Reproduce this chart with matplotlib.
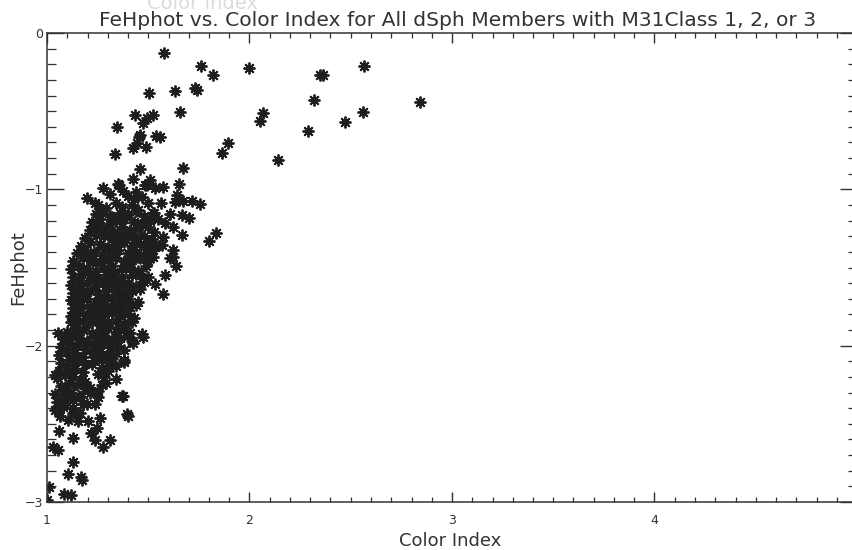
import matplotlib
matplotlib.use("Agg")
import matplotlib.pyplot as plt
from matplotlib.ticker import MultipleLocator, FixedLocator

# ---------------- data ----------------
# sparse points in the upper part of the plot
upper_x = [1.578, 1.760, 1.821, 2.000, 1.504, 1.633, 1.730, 1.740, 1.659, 1.435,
           1.493, 1.522, 1.473, 1.348, 2.069, 2.050, 1.460, 1.456, 1.443, 1.424,
           1.489, 1.539, 1.559, 1.336, 1.896, 1.864, 2.140, 1.671, 1.460, 1.427,
           1.509, 1.349, 1.357, 1.278, 1.311, 1.377, 1.534, 1.575, 1.493, 1.654,
           1.196, 1.237, 1.641, 1.654, 1.633, 1.674, 1.715, 1.756, 1.562, 1.835,
           1.802, 1.484, 1.608, 1.666, 1.703, 1.583, 1.621, 1.666, 1.525, 1.575,
           1.567, 1.624, 1.621, 1.534, 1.525, 1.638, 1.583, 1.534, 1.572, 1.608,
           1.440, 1.470, 1.400, 1.430]
upper_y = [-0.130, -0.211, -0.269, -0.226, -0.386, -0.369, -0.354, -0.364, -0.507, -0.524,
           -0.546, -0.524, -0.578, -0.599, -0.514, -0.561, -0.652, -0.667, -0.705, -0.737,
           -0.727, -0.659, -0.667, -0.774, -0.701, -0.765, -0.812, -0.861, -0.872, -0.934,
           -0.940, -0.965, -0.974, -0.989, -1.031, -1.010, -0.993, -0.983, -0.972, -0.965,
           -1.053, -1.089, -1.036, -1.068, -1.079, -1.072, -1.072, -1.093, -1.085, -1.281,
           -1.328, -0.972, -1.159, -1.164, -1.185, -1.217, -1.238, -1.292, -1.153, -1.302,
           -1.356, -1.387, -1.430, -1.366, -1.430, -1.490, -1.547, -1.605, -1.669, -1.441,
           -1.020, -1.050, -1.040, -1.060]

# sparse points to the right (colour index > 2.2)
right_x = [2.350, 2.365, 2.320, 2.567, 2.473, 2.562, 2.290, 2.844]
right_y = [-0.269, -0.269, -0.428, -0.211, -0.569, -0.505, -0.627, -0.441]

# dense core of the distribution
core_x = [1.25, 1.29, 1.34, 1.37, 1.42, 1.45, 1.50,
          1.24, 1.27, 1.31, 1.36, 1.40, 1.44, 1.48, 1.53,
          1.22, 1.26, 1.31, 1.34, 1.38, 1.43, 1.47, 1.51, 1.55,
          1.21, 1.25, 1.29, 1.33, 1.37, 1.41, 1.45, 1.50, 1.53,
          1.19, 1.24, 1.28, 1.32, 1.36, 1.40, 1.44, 1.48, 1.52,
          1.17, 1.21, 1.26, 1.30, 1.34, 1.38, 1.42, 1.46, 1.50, 1.54,
          1.15, 1.19, 1.23, 1.27, 1.31, 1.35, 1.40, 1.44, 1.48, 1.52,
          1.13, 1.18, 1.22, 1.26, 1.30, 1.34, 1.38, 1.42, 1.46, 1.50,
          1.12, 1.16, 1.20, 1.24, 1.28, 1.32, 1.37, 1.41, 1.45, 1.49,
          1.13, 1.17, 1.21, 1.25, 1.29, 1.33, 1.37, 1.42, 1.46, 1.50,
          1.12, 1.16, 1.20, 1.24, 1.28, 1.32, 1.36, 1.40, 1.44, 1.48,
          1.13, 1.17, 1.21, 1.25, 1.29, 1.34, 1.38, 1.42, 1.46,
          1.12, 1.16, 1.20, 1.24, 1.28, 1.32, 1.36, 1.40, 1.45,
          1.13, 1.17, 1.21, 1.25, 1.29, 1.33, 1.37, 1.41, 1.44,
          1.12, 1.16, 1.20, 1.24, 1.28, 1.32, 1.36, 1.40, 1.43,
          1.14, 1.18, 1.22, 1.26, 1.30, 1.34, 1.38, 1.42,
          1.10, 1.14, 1.18, 1.22, 1.26, 1.30, 1.34, 1.38, 1.41,
          1.08, 1.12, 1.16, 1.20, 1.24, 1.28, 1.32, 1.36, 1.40,
          1.07, 1.11, 1.15, 1.19, 1.23, 1.27, 1.31, 1.35,
          1.06, 1.10, 1.14, 1.18, 1.22, 1.26, 1.30, 1.34,
          1.07, 1.11, 1.15, 1.19, 1.23, 1.27, 1.31,
          1.06, 1.10, 1.14, 1.18, 1.27, 1.30,
          1.05, 1.09, 1.13, 1.17, 1.28,
          1.07, 1.11, 1.15, 1.19, 1.27,
          1.04, 1.08, 1.12, 1.16, 1.21,
          1.05, 1.09, 1.13, 1.18,
          1.04, 1.08, 1.13]
core_y = [-1.10, -1.12, -1.09, -1.11, -1.10, -1.13, -1.09,
          -1.16, -1.14, -1.17, -1.15, -1.16, -1.14, -1.17, -1.15,
          -1.21, -1.19, -1.22, -1.20, -1.19, -1.21, -1.22, -1.20, -1.19,
          -1.26, -1.24, -1.25, -1.27, -1.24, -1.26, -1.25, -1.24, -1.27,
          -1.31, -1.29, -1.30, -1.32, -1.30, -1.29, -1.31, -1.30, -1.32,
          -1.36, -1.34, -1.35, -1.37, -1.35, -1.34, -1.36, -1.35, -1.34, -1.36,
          -1.41, -1.39, -1.40, -1.42, -1.40, -1.39, -1.41, -1.40, -1.42, -1.39,
          -1.46, -1.44, -1.45, -1.47, -1.45, -1.44, -1.46, -1.45, -1.44, -1.46,
          -1.51, -1.49, -1.50, -1.52, -1.50, -1.49, -1.51, -1.50, -1.52, -1.49,
          -1.56, -1.54, -1.55, -1.57, -1.55, -1.54, -1.56, -1.55, -1.54, -1.56,
          -1.61, -1.59, -1.60, -1.62, -1.60, -1.59, -1.61, -1.60, -1.62, -1.59,
          -1.66, -1.64, -1.65, -1.67, -1.65, -1.64, -1.66, -1.65, -1.64,
          -1.71, -1.69, -1.70, -1.72, -1.70, -1.69, -1.71, -1.70, -1.72,
          -1.76, -1.74, -1.75, -1.77, -1.75, -1.74, -1.76, -1.75, -1.74,
          -1.81, -1.79, -1.80, -1.82, -1.80, -1.79, -1.81, -1.80, -1.82,
          -1.86, -1.84, -1.85, -1.87, -1.85, -1.84, -1.86, -1.85,
          -1.91, -1.89, -1.90, -1.92, -1.90, -1.89, -1.91, -1.90, -1.92,
          -1.96, -1.94, -1.95, -1.97, -1.95, -1.94, -1.96, -1.95, -1.94,
          -2.01, -1.99, -2.00, -2.02, -2.00, -1.99, -2.01, -2.00,
          -2.06, -2.04, -2.05, -2.07, -2.05, -2.04, -2.06, -2.05,
          -2.11, -2.09, -2.10, -2.12, -2.10, -2.09, -2.11,
          -2.16, -2.14, -2.15, -2.17, -2.14, -2.16,
          -2.21, -2.19, -2.20, -2.22, -2.20,
          -2.26, -2.24, -2.25, -2.27, -2.25,
          -2.31, -2.29, -2.30, -2.32, -2.30,
          -2.36, -2.34, -2.35, -2.37,
          -2.41, -2.39, -2.40]

# extra points filling the densest part of the core (offset between rows)
fill_x = [1.27, 1.32, 1.39, 1.47, 1.23, 1.30, 1.35, 1.43, 1.49, 1.20, 1.27, 1.33,
          1.39, 1.45, 1.18, 1.24, 1.31, 1.36, 1.43, 1.16, 1.22, 1.29, 1.35, 1.41,
          1.47, 1.15, 1.19, 1.27, 1.34, 1.39, 1.14, 1.22, 1.26, 1.31, 1.39, 1.15,
          1.19, 1.27, 1.35, 1.42, 1.18, 1.23, 1.30, 1.38, 1.15, 1.22, 1.27, 1.34,
          1.11, 1.19, 1.25, 1.32, 1.09, 1.17, 1.21, 1.29, 1.08, 1.13, 1.20, 1.25]
fill_y = [-1.13, -1.18, -1.17, -1.22, -1.28, -1.27, -1.33, -1.32, -1.38, -1.43,
          -1.37, -1.42, -1.47, -1.43, -1.52, -1.47, -1.53, -1.58, -1.52, -1.63,
          -1.57, -1.62, -1.67, -1.63, -1.57, -1.72, -1.67, -1.73, -1.77, -1.68,
          -1.83, -1.78, -1.83, -1.77, -1.87, -1.93, -1.88, -1.92, -1.88, -1.97,
          -1.98, -2.03, -1.97, -2.03, -2.08, -2.12, -2.07, -2.13, -2.18, -2.23,
          -2.18, -2.08, -2.28, -2.33, -2.27, -2.24, -2.38, -2.43, -2.37, -2.33]

# sparse tail at low metallicity
tail_x = [1.473, 1.424, 1.381, 1.341, 1.374, 1.397, 1.117, 1.056, 1.040, 1.064,
          1.056, 1.163, 1.061, 1.130, 1.031, 1.056, 1.218, 1.246, 1.237, 1.278,
          1.311, 1.262, 1.201, 1.155, 1.399, 1.130, 1.102, 1.168, 1.175, 1.010,
          1.086, 1.119, 1.000, 1.064, 1.105, 1.372, 1.382, 1.254, 1.237, 1.468]
tail_y = [-1.942, -1.984, -2.091, -2.214, -2.319, -2.438, -1.846, -1.920, -2.187, -2.357,
          -2.410, -2.432, -2.549, -2.592, -2.645, -2.666, -2.560, -2.528, -2.602, -2.649,
          -2.602, -2.464, -2.481, -2.485, -2.447, -2.745, -2.822, -2.837, -2.862, -2.901,
          -2.950, -2.958, -2.986, -2.453, -2.474, -2.321, -2.102, -2.293, -2.372, -1.927]

x_ticks = [1, 2, 3, 4, 5]
x_ticklabels = ["1", "2", "3", "4", "5"]
y_ticks = [0, -1, -2, -3]
y_ticklabels = ["0", "\u22121", "\u22122", "\u22123"]

title = "FeHphot vs. Color Index for All dSph Members with M31Class 1, 2, or 3"
xlabel = "Color Index"
ylabel = "FeHphot"

# ---------------- figure ----------------
W, H = 853, 550
fig = plt.figure(figsize=(W / 100, H / 100), dpi=100)
fig.patch.set_facecolor("white")
ax = fig.add_axes([47 / W, 48 / H, 810 / W, 469 / H])

mk = dict(linestyle="none", marker=(8, 2, 0), markersize=8.5,
          markeredgewidth=1.35, color="#1e1e1e")
for xs, ys in [(upper_x, upper_y), (right_x, right_y), (core_x, core_y),
               (fill_x, fill_y), (tail_x, tail_y)]:
    ax.plot(xs, ys, clip_on=True, **mk)

ax.set_xlim(1, 5)
ax.set_ylim(-3, 0)
ax.xaxis.set_major_locator(FixedLocator(x_ticks))
ax.set_xticklabels(x_ticklabels)
ax.yaxis.set_major_locator(FixedLocator(y_ticks))
ax.set_yticklabels(y_ticklabels)
ax.xaxis.set_minor_locator(MultipleLocator(0.1))
ax.yaxis.set_minor_locator(MultipleLocator(0.1))

axc = "#333333"
for s in ax.spines.values():
    s.set_color(axc)
    s.set_linewidth(1.1)
ax.tick_params(axis="x", which="major", direction="in", length=7.5, width=1.0,
               top=True, bottom=True, colors=axc, labelsize=9, pad=9)
ax.tick_params(axis="x", which="minor", direction="in", length=3.8, width=0.9,
               top=True, bottom=True, colors=axc)
ax.tick_params(axis="y", which="major", direction="in", length=12.5, width=1.0,
               left=True, right=True, colors=axc, labelsize=9, pad=3)
ax.tick_params(axis="y", which="minor", direction="in", length=6.2, width=0.9,
               left=True, right=True, colors=axc)

fig.text(458 / W, 1 - 26 / H, title, ha="center", va="baseline",
         fontsize=14.6, color="#333333")
fig.text(202 / W, 1 - 9 / H, xlabel, ha="center", va="baseline",
         fontsize=14, color="#dcdcdc")
fig.text(450 / W, 1 - 546 / H, xlabel, ha="center", va="baseline",
         fontsize=13, color="#333333")
fig.text(18 / W, 1 - 268 / H, ylabel, ha="center", va="center", rotation=90,
         fontsize=13, color="#333333")

fig.savefig("out.png", dpi=100, facecolor="white")
